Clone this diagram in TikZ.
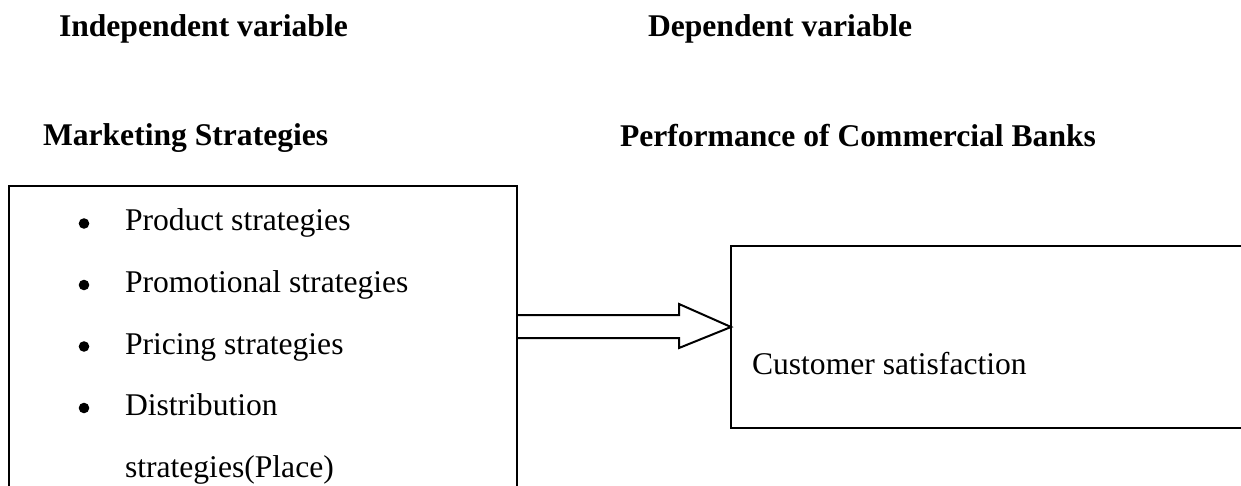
\documentclass[tikz,border=0pt]{standalone}
\usepackage{fontspec}
\setmainfont{Liberation Serif}
\usetikzlibrary{calc}

\begin{document}
\begin{tikzpicture}[x=1pt,y=-1pt,
    txt/.style={inner sep=0pt, outer sep=0pt, anchor=base west,
                font=\fontsize{31.6}{38}\selectfont},
    heading/.style={txt, font=\fontsize{31.6}{38}\selectfont\bfseries},
    bulletmark/.style={circle, fill=black, inner sep=0pt, minimum size=10.6pt},
    panel/.style={draw, line width=2.2pt, inner sep=0pt, outer sep=0pt,
                anchor=north west},
    arrowline/.style={draw, line width=2pt, line join=miter}]

  \useasboundingbox (0,0) rectangle (1241,486);
  \clip (0,0) rectangle (1241,486);

  % column headings
  \node[heading] (iv) at (59,37)  {Independent variable};
  \node[heading] (dv) at (648,37) {Dependent variable};
  \node[heading] (ms) at (43,146) {Marketing Strategies};
  \node[heading] (pb) at (620,147) {Performance of Commercial Banks};

  % the two panels
  \node[panel, minimum width=508pt, minimum height=330pt] (L) at (9,186) {};
  \node[panel, minimum width=560pt, minimum height=182pt] (R) at (731,246) {};

  % list of strategies
  \node[bulletmark] (b1) at (84,223.5) {};
  \node[txt] (t1) at (125,231) {Product strategies};
  \node[bulletmark] (b2) at (84,285) {};
  \node[txt] (t2) at (125,292.5) {Promotional strategies};
  \node[bulletmark] (b3) at (84,346.5) {};
  \node[txt] (t3) at (125,354) {Pricing strategies};
  \node[bulletmark] (b4) at (84,408) {};
  \node[txt] (t4) at (125,415.7) {Distribution};
  \node[txt] (t5) at (125,477) {strategies(Place)};

  % outcome
  \node[txt] (cs) at (752,374) {Customer satisfaction};

  % block arrow from the strategies panel to the outcome panel
  \coordinate (tip) at (R.west |- 0,327);
  \draw[arrowline] (L.east |- 0,315) -- ($(tip)+(-52,-12)$) -- ($(tip)+(-52,-23)$)
      -- (tip) -- ($(tip)+(-52,21)$) -- ($(tip)+(-52,11)$) -- (L.east |- 0,338);
\end{tikzpicture}
\end{document}
